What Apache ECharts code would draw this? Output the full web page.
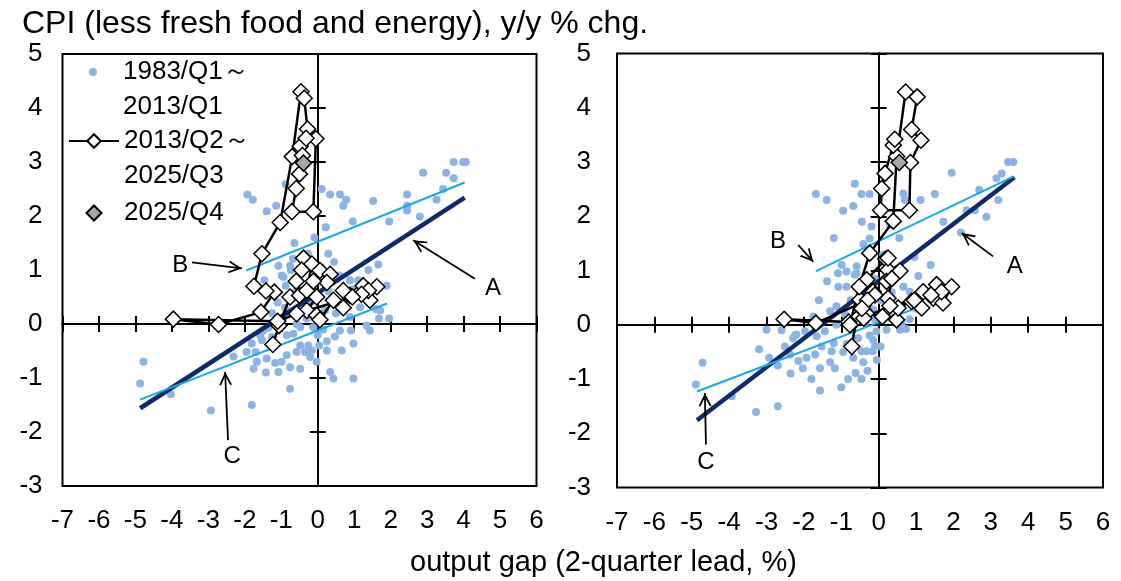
<!DOCTYPE html>
<html>
<head>
<meta charset="utf-8">
<title>CPI vs output gap</title>
<script src="https://cdn.jsdelivr.net/npm/echarts@6/dist/echarts.min.js"></script>
<style>
  html, body { margin: 0; padding: 0; background: #fff; }
  #chart { width: 1121px; height: 581px; }
</style>
</head>
<body>
<div id="chart"></div>
<script>
// series names (legend)
const dotsName = '1983/Q1～\n2013/Q1';
const pathName = '2013/Q2～\n2025/Q3';
const latestName = '2025/Q4';

// left panel: 1983/Q1 - 2013/Q1 [output gap, CPI]
const dotsLeft = [
  [-1.93, 2.40], [-1.78, 2.30], [-1.40, 2.09], [-1.14, 2.19], [-0.88, 2.59], [0.11, 2.50], [0.34, 2.40], [0.61, 2.40], [0.78, 2.30], [0.70, 2.19],
  [1.52, 2.28], [0.96, 1.90], [1.96, 1.90], [2.45, 2.40], [2.89, 2.80], [3.52, 2.80], [3.73, 3.00], [3.99, 3.00], [4.06, 3.00], [3.73, 2.70],
  [3.44, 2.50], [3.26, 2.30], [2.80, 1.99], [2.45, 2.19], [2.45, 2.10], [0.22, 1.79], [-0.64, 1.50], [-0.09, 1.60], [-0.27, 1.30], [0.29, 1.30],
  [-0.68, 1.21], [-1.08, 1.08], [-0.76, 1.08], [-0.74, 1.00], [-0.99, 0.90], [-1.46, 0.81], [-0.94, 0.87], [-0.88, 0.71], [0.88, 0.81], [1.11, 0.81],
  [1.39, 1.00], [1.66, 1.10], [1.89, 0.71], [1.37, 0.56], [0.79, 0.50], [1.59, 0.28], [1.71, 0.25], [1.68, 0.10], [1.96, 0.10], [1.34, -0.03],
  [1.43, -0.12], [0.91, -0.12], [0.61, -0.12], [0.47, -0.23], [0.25, -0.32], [0.04, -0.40], [-0.03, -0.70], [-0.21, -0.61], [-0.35, -0.52], [-0.58, -0.52],
  [-0.26, -0.40], [-0.48, -0.40], [-0.85, -0.58], [-0.99, -0.70], [-1.17, -0.72], [-1.40, -0.64], [-1.67, -0.70], [-1.76, -0.83], [-1.42, -0.90], [-1.08, -0.89],
  [-0.76, -0.80], [-0.48, -0.83], [-0.76, -1.20], [-2.31, -0.60], [-1.95, -0.52], [-1.70, -0.52], [0.34, -0.89], [0.43, -1.01], [0.98, -1.01], [-4.78, -0.70],
  [-4.87, -1.10], [-4.03, -1.30], [-2.93, -1.60], [-1.81, -1.50], [0.00, -0.21], [-0.12, -0.06], [0.06, 0.13], [1.16, 0.31], [0.88, 0.13], [-0.48, -0.06],
  [-0.67, -0.18], [-1.49, -0.12], [-1.26, -0.24], [0.98, -0.36], [0.66, -0.49], [0.25, -0.49], [-0.16, -0.49], [-1.53, -0.30], [-1.81, -0.36], [-1.35, -0.07],
  [-1.58, -0.21], [-0.85, -0.21], [-0.58, 0.00],
  [-0.20, 0.40], [0.30, 0.60], [-0.50, 0.95], [0.50, 0.20], [-0.90, 0.30], [0.10, 1.05], [-0.30, 0.10], [0.60, 0.90], [1.20, 0.50],
  [-1.10, 0.40], [0.20, 0.25], [-0.60, 0.60], [-1.25, 0.20], [0.45, 1.15], [-0.15, 0.75], [-0.95, 0.10], [1.00, 0.65], [0.15, -0.10]
];
// 2013/Q2 - 2025/Q3, in time order
const pathLeft = [
  [-1.23, -0.38], [-1.06, -0.03], [-0.76, 0.50], [-0.50, 0.53], [-0.59, 0.79], [-0.39, 1.22], [-0.44, 1.00], [-0.16, 1.11], [-0.30, 0.62], [0.06, 0.99],
  [0.34, 0.92], [0.25, 0.77], [-0.12, 0.79], [-0.03, 0.50], [-0.30, 0.25], [-0.03, 0.16], [0.06, 0.08], [0.43, 0.44], [0.70, 0.30], [0.88, 0.53],
  [0.70, 0.62], [1.16, 0.59], [1.25, 0.71], [1.43, 0.44], [1.62, 0.69], [1.39, 0.62], [1.20, 0.55],
  [0.95, 0.50], [-0.58, 0.19], [-1.10, 0.05], [-3.96, 0.09],
  [-2.72, -0.01], [-1.56, 0.22], [-1.19, 0.59], [-1.42, 0.61],
  [-1.75, 0.70], [-1.53, 1.30], [-1.03, 1.88], [-0.70, 3.10],
  [-0.46, 4.30], [-0.37, 4.18], [-0.28, 3.61], [-0.05, 3.43],
  [-0.12, 2.08], [-0.71, 2.08], [-0.59, 2.51], [-0.50, 2.78],
  [-0.48, 3.29], [-0.32, 3.44], [-0.42, 3.12]
];
const latestLeft = [[-0.39, 2.98]];
const fitLeftA = [[-4.87, -1.56], [4.03, 2.34]];
const fitLeftB = [[-1.96, 0.99], [4.03, 2.62]];
const fitLeftC = [[-4.87, -1.40], [1.90, 0.38]];
// arrows: [tail, tip], labels: [text, x, y]
const arrowsLeft = [[[-3.45, 1.14], [-2.08, 1.03]], [[4.31, 0.84], [2.62, 1.55]], [[-2.46, -2.15], [-2.54, -0.89]]];
const labelsLeft = [['B', -3.77, 1.08], ['A', 4.81, 0.66], ['C', -2.35, -2.45]];

// right panel
const dotsRight = [
  [3.46, 3.00], [3.60, 3.00], [3.29, 2.79], [3.15, 2.70], [1.95, 2.80], [2.69, 2.49], [3.20, 2.30], [2.35, 2.11], [2.57, 2.11], [2.88, 1.99],
  [1.73, 1.90], [1.50, 2.41], [1.12, 2.30], [-0.64, 2.60], [-0.46, 2.41], [-0.24, 2.41], [-1.39, 2.30], [-1.68, 2.41], [-0.95, 2.10], [-0.68, 2.19],
  [-0.19, 1.81], [-0.24, 1.59], [-0.41, 1.49], [1.39, 1.10], [1.06, 0.90], [0.48, 1.01], [0.66, 0.70], [0.83, 0.61], [0.12, 1.29], [0.21, 1.10],
  [-0.99, 1.10], [-0.86, 0.98], [-0.59, 0.95], [-0.59, 1.08], [-1.38, 0.80], [-1.08, 0.70], [-0.86, 0.70], [-0.64, 0.92], [-1.13, 0.34], [-1.30, 0.25],
  [-0.15, 0.28], [0.21, -0.09], [0.73, -0.08], [0.66, 2.42], [0.70, 2.30], [-3.00, -0.09], [-2.20, -0.18], [-4.71, -0.70], [-4.89, -1.10], [-3.93, -1.32],
  [-3.28, -1.61], [-2.70, -1.50], [-1.57, -1.21], [-2.24, -0.20], [-2.51, -0.40], [-2.93, -0.61], [-2.37, -0.55], [-2.15, -0.67], [-1.93, -0.61], [-2.03, -0.80],
  [-2.36, -0.90], [-1.57, -0.80], [-1.30, -0.69], [-1.17, -0.80], [-0.82, -1.00], [-0.62, -0.89], [-0.46, -1.00], [-0.68, -0.61], [-0.41, -0.69], [-1.26, -0.49],
  [-1.53, -0.40], [-1.20, -0.34], [-1.97, -0.12], [-1.66, -0.21], [-1.44, -0.12], [-1.13, 0.00], [-0.46, -0.49], [-0.33, -0.49], [-0.16, -0.49], [-0.10, -0.39],
  [-0.15, -0.28], [-0.24, -0.20], [-0.06, -0.12], [0.61, 0.03], [0.83, 0.10],
  [-1.09, 0.95], [-0.30, 0.60], [-0.10, 0.85], [0.05, 0.45], [0.35, 0.60], [-0.50, 0.30], [-0.75, 0.45], [-0.90, 0.20], [-1.60, 0.45], [-1.75, 0.15],
  [-0.35, 0.05], [-0.10, 0.09], [0.57, -0.09], [0.30, 0.15], [1.00, 0.30], [1.30, 0.55], [0.95, 1.25], [2.20, 1.70], [-2.29, -0.25], [-2.60, -0.10],
  [-3.20, -0.45], [-1.80, -1.00], [-1.00, -1.15], [-0.30, -0.85], [-0.05, -0.65], [0.05, -0.40], [-0.85, -0.35], [-0.70, -0.10], [-1.70, -0.55], [-2.70, -0.75],
  [-0.45, 1.90], [0.30, 1.85], [-1.20, 1.60], [0.55, 1.60], [-0.95, -0.50], [-0.55, -0.25]
];
const pathRight = [
  [-0.72, -0.40], [-0.60, 0.10], [-0.50, 0.46], [-0.15, 0.61], [-0.32, 0.83], [0.19, 1.21], [0.25, 1.01], [0.25, 1.23], [0.21, 0.80], [0.57, 0.99],
  [0.35, 0.85], [0.25, 0.49], [-0.10, 0.55], [-0.33, 0.21], [0.10, 0.15], [0.48, 0.09], [0.52, 0.31], [0.88, 0.43], [1.15, 0.31], [1.19, 0.61],
  [1.46, 0.49], [1.55, 0.74], [1.95, 0.70], [1.72, 0.40], [1.68, 0.61], [1.40, 0.55], [0.95, 0.45],
  [0.30, 0.35], [-0.40, 0.12], [-0.80, 0.05], [-2.53, 0.10],
  [-1.68, 0.03], [-0.30, 0.45], [-0.45, 0.30], [-0.77, 0.00],
  [-0.52, 0.70], [-0.24, 1.32], [0.39, 1.91], [0.48, 3.10],
  [0.72, 4.29], [1.03, 4.20], [0.88, 3.60], [1.13, 3.40],
  [0.85, 2.99], [0.82, 2.11], [0.05, 2.11], [0.08, 2.51],
  [0.17, 2.79], [0.39, 3.31], [0.43, 3.42]
];
const latestRight = [[0.55, 2.99]];
const fitRightA = [[-4.86, -1.76], [3.63, 2.72]];
const fitRightB = [[-1.68, 0.99], [3.60, 2.73]];
const fitRightC = [[-4.86, -1.23], [0.90, 0.28]];
const arrowsRight = [[[-2.15, 1.47], [-1.75, 1.16]], [[3.06, 1.26], [2.22, 1.69]], [[-4.62, -2.21], [-4.65, -1.26]]];
const labelsRight = [['B', -2.69, 1.53], ['A', 3.64, 1.07], ['C', -4.62, -2.54]];

const font = '"Liberation Sans", Arial, Helvetica, sans-serif';
// open arrow head, tip at the symbol centre
const arrowHead = 'path://M0,0 L0.1,0 L0,0.1 Z M40,0 L39.9,0 L40,0.1 Z M20,20 L30,40 L26.9,40 L20,26.2 L13.1,40 L10,40 Z';
// legend icons (paths keep their aspect inside the icon box)
const dotIcon = 'path://M0,5 A5,5 0 1,0 10,5 A5,5 0 1,0 0,5 Z';
const diamondIcon = 'path://M5,0 L10,5 L5,10 L0,5 Z';

const chart = echarts.init(document.getElementById('chart'));

function axesFor(p, dim) {
  const isX = dim === 'x';
  const base = {
    gridIndex: p,
    type: 'value',
    min: isX ? -7 : -3,
    max: isX ? 6 : 5,
    interval: 1,
    position: isX ? 'bottom' : 'left',
    splitLine: { show: false }
  };
  const labelAxis = Object.assign({}, base, {
    axisLine: { show: false, onZero: false },
    axisTick: { show: false },
    axisLabel: {
      fontSize: 26, color: '#000', fontFamily: font,
      margin: isX ? 22 : (p === 0 ? 20 : 26),
      showMinLabel: true, showMaxLabel: true
    }
  });
  const lineAxis = inside => Object.assign({}, base, {
    axisLine: { show: true, onZero: true, onZeroAxisIndex: p * 3, lineStyle: { color: '#000', width: 2 } },
    axisTick: { show: true, inside: inside, length: 8, lineStyle: { color: '#000', width: 2 } },
    axisLabel: { show: false }
  });
  return [labelAxis, lineAxis(true), lineAxis(false)];
}

function panelSeries(p, dots, path, latest, fitA, fitB, fitC, arrows, labels) {
  const ax = { xAxisIndex: p * 3, yAxisIndex: p * 3 };
  const fit = (data, color, width, extra) => Object.assign({
    type: 'line', data: data, symbol: 'none', silent: true, z: 3,
    lineStyle: { color: color, width: width }
  }, ax, extra || {});
  return [
    Object.assign({
      type: 'scatter', name: dotsName, data: dots, symbolSize: 8, silent: true, z: 2,
      itemStyle: { color: '#8db3e2', opacity: 1 }
    }, ax),
    fit(fitA, '#0f2b67', 4.5, {
      markLine: {
        silent: true,
        symbol: ['none', arrowHead],
        symbolSize: 26,
        label: { show: false },
        lineStyle: { color: '#000', width: 1.8, type: 'solid' },
        data: arrows.map(a => [{ coord: a[0] }, { coord: a[1] }])
      },
      markPoint: {
        silent: true,
        symbol: 'circle',
        symbolSize: 1,
        itemStyle: { color: 'rgba(0,0,0,0)' },
        label: { show: true, position: 'inside', formatter: '{b}', fontSize: 24, color: '#000', fontFamily: font },
        data: labels.map(l => ({ name: l[0], coord: [l[1], l[2]] }))
      }
    }),
    fit(fitB, '#19a8e5', 2),
    fit(fitC, '#19a8e5', 2),
    Object.assign({
      type: 'line', name: pathName, data: path, symbol: 'diamond', symbolSize: 16, z: 4, silent: true,
      itemStyle: { color: '#fff', borderColor: '#000', borderWidth: 1.5 },
      lineStyle: { color: '#000', width: 2.5 }
    }, ax),
    Object.assign({
      type: 'scatter', name: latestName, data: latest, symbol: 'diamond', symbolSize: 16, z: 5, silent: true,
      itemStyle: { color: '#a5a5a5', borderColor: '#000', borderWidth: 1.5, opacity: 1 }
    }, ax)
  ];
}

// an empty first line puts the icon beside the first line of a two-line label
const legendText = { fontSize: 26, color: '#000', fontFamily: font, lineHeight: 35 };
const twoLine = name => '\u00a0\n' + name;

// the legend box starts at the drawn icon, so small icons get a larger left
const option = {
  animation: false,
  backgroundColor: '#fff',
  title: [
    { text: 'CPI (less fresh food and energy), y/y % chg.', left: 22, top: 8, padding: 0,
      textStyle: { fontSize: 32, fontWeight: 'normal', color: '#000', fontFamily: font } },
    { text: 'output gap (2-quarter lead, %)', left: 410, top: 548, padding: 0,
      textStyle: { fontSize: 29, fontWeight: 'normal', color: '#000', fontFamily: font } }
  ],
  legend: [
    { data: [{ name: dotsName, icon: dotIcon }], left: 89, top: 19.5, padding: 0, orient: 'vertical',
      selectedMode: false, symbolKeepAspect: true, itemWidth: 50, itemHeight: 8,
      formatter: twoLine, textStyle: legendText },
    { data: [pathName], left: 68, top: 88.5, padding: 0, orient: 'vertical',
      selectedMode: false, itemWidth: 50, itemHeight: 17,
      formatter: twoLine, textStyle: legendText },
    { data: [{ name: latestName, icon: diamondIcon }], left: 85.5, top: 195.5, padding: 0, orient: 'vertical',
      selectedMode: false, symbolKeepAspect: true, itemWidth: 50, itemHeight: 15,
      textStyle: legendText }
  ],
  grid: [
    { left: 62.5, top: 54, width: 474, height: 432, show: true, borderColor: '#000', borderWidth: 2,
      backgroundColor: 'rgba(0,0,0,0)', containLabel: false, outerBoundsMode: 'none' },
    { left: 617, top: 53.5, width: 486, height: 434, show: true, borderColor: '#000', borderWidth: 2,
      backgroundColor: 'rgba(0,0,0,0)', containLabel: false, outerBoundsMode: 'none' }
  ],
  xAxis: axesFor(0, 'x').concat(axesFor(1, 'x')),
  yAxis: axesFor(0, 'y').concat(axesFor(1, 'y')),
  series: panelSeries(0, dotsLeft, pathLeft, latestLeft, fitLeftA, fitLeftB, fitLeftC, arrowsLeft, labelsLeft)
    .concat(panelSeries(1, dotsRight, pathRight, latestRight, fitRightA, fitRightB, fitRightC, arrowsRight, labelsRight))
};

chart.setOption(option);
</script>
</body>
</html>
